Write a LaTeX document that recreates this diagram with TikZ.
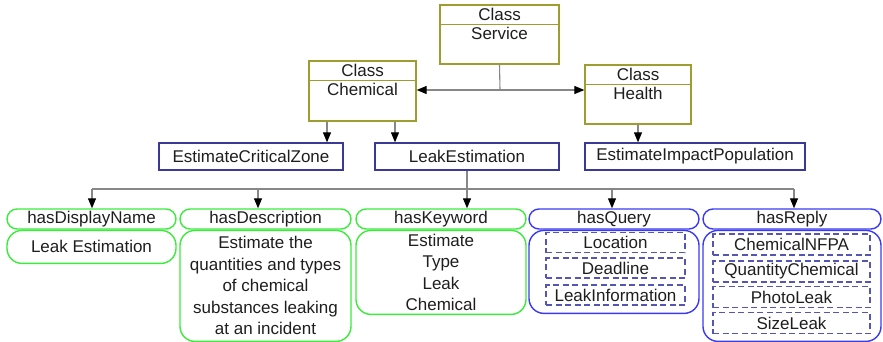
\documentclass[tikz,border=0pt]{standalone}
\usepackage{fontspec}
\setmainfont{Liberation Sans}
\usetikzlibrary{arrows.meta}

\definecolor{classc}{RGB}{158,158,48}
\definecolor{opc}{RGB}{58,58,150}
\definecolor{greenc}{RGB}{60,235,60}
\definecolor{bluec}{RGB}{58,58,245}
\definecolor{dashc}{RGB}{85,85,180}
\definecolor{linec}{RGB}{135,135,135}
\definecolor{textc}{RGB}{30,30,30}

\tikzset{
  txt/.style={font=\fontsize{17}{21.5}\selectfont, text=textc, inner sep=0pt},
  classbox/.style={draw=classc, line width=1.3pt, fill=white, inner sep=0pt},
  classrule/.style={draw=classc, line width=1.1pt},
  opbox/.style={txt, draw=opc, line width=1.3pt, minimum height=27pt},
  hdr/.style={txt, rounded corners=10pt, line width=1.4pt, minimum height=20pt},
  bodybox/.style={txt, rounded corners=15pt, line width=1.4pt, align=center},
  greenbox/.style={draw=greenc},
  bluebox/.style={draw=bluec},
  dashbox/.style={txt, draw=dashc, line width=1.2pt, dash pattern=on 6pt off 3.5pt, minimum height=20pt},
  conn/.style={draw=linec, line width=1.1pt},
  arr/.style={conn, -{Triangle[color=black, length=10pt, width=8pt]}},
}

\begin{document}
\begin{tikzpicture}[x=1pt, y=-1pt]
\useasboundingbox (0,0) rectangle (883,342);

% class boxes with a title strip
\node[classbox, minimum width=119pt, minimum height=59pt] (service) at (499.5,34.5) {};
\draw[classrule] ([yshift=-20pt]service.north west) -- ([yshift=-20pt]service.north east);
\node[txt] (serviceA) at ([yshift=-10pt]service.north) {Class};
\node[txt, anchor=north] (serviceB) at ([yshift=-23pt]service.north) {Service};

\node[classbox, minimum width=107pt, minimum height=60pt] (chemical) at (362.5,91) {};
\draw[classrule] ([yshift=-20pt]chemical.north west) -- ([yshift=-20pt]chemical.north east);
\node[txt] (chemicalA) at ([yshift=-10pt]chemical.north) {Class};
\node[txt, anchor=north] (chemicalB) at ([yshift=-23pt]chemical.north) {Chemical};

\node[classbox, minimum width=106pt, minimum height=59pt] (health) at (638,94.5) {};
\draw[classrule] ([yshift=-20pt]health.north west) -- ([yshift=-20pt]health.north east);
\node[txt] (healthA) at ([yshift=-10pt]health.north) {Class};
\node[txt, anchor=north] (healthB) at ([yshift=-23pt]health.north) {Health};

% operations
\node[opbox, minimum width=184pt] (ecz) at (251,156.5) {EstimateCriticalZone};
\node[opbox, minimum width=184pt] (leak) at (467,156.5) {LeakEstimation};
\node[opbox, minimum width=220pt] (eip) at (695,156.5) {EstimateImpactPopulation};

% property headers
\node[hdr, greenbox, minimum width=169pt] (hdn) at (91.5,219) {hasDisplayName};
\node[hdr, greenbox, minimum width=171pt] (hde) at (265.5,219) {hasDescription};
\node[hdr, greenbox, minimum width=170pt] (hkw) at (441,219) {hasKeyword};
\node[hdr, bluebox, minimum width=170pt] (hqu) at (614,219) {hasQuery};
\node[hdr, bluebox, minimum width=178pt] (hre) at (792,219) {hasReply};

% property values
\node[bodybox, greenbox, minimum width=169pt, minimum height=33pt, anchor=north] (vdn) at (hdn.south) {Leak Estimation};
\node[bodybox, greenbox, minimum width=171pt, minimum height=111pt, anchor=north] (vde) at (hde.south)
  {Estimate the\\quantities and types\\of chemical\\substances leaking\\at an incident};
\node[bodybox, greenbox, minimum width=170pt, minimum height=84pt, anchor=north] (vkw) at (hkw.south)
  {Estimate\\Type\\Leak\\Chemical};
\node[bodybox, bluebox, minimum width=170pt, minimum height=83pt, anchor=north] (vqu) at (hqu.south) {};
\node[bodybox, bluebox, minimum width=178pt, minimum height=111pt, anchor=north] (vre) at (hre.south) {};

% query parameters
\node[dashbox, minimum width=139pt] (q1) at (615.5,242.5) {Location};
\node[dashbox, minimum width=139pt] (q2) at (615.5,268) {Deadline};
\node[dashbox, minimum width=139pt] (q3) at (615.5,295) {LeakInformation};

% reply parameters
\node[dashbox, minimum width=157pt, minimum height=21pt] (r1) at (791.5,244.5) {ChemicalNFPA};
\node[dashbox, minimum width=157pt, minimum height=21pt] (r2) at (791.5,271.5) {QuantityChemical};
\node[dashbox, minimum width=157pt, minimum height=21pt] (r3) at (791.5,297) {PhotoLeak};
\node[dashbox, minimum width=157pt, minimum height=21pt] (r4) at (791.5,323) {SizeLeak};

% service to classes
\coordinate (sj) at (500,90);
\draw[conn] (service.south) -- (sj);
\draw[arr] (sj) -- (sj -| chemical.east);
\draw[arr] (sj) -- (sj -| health.west);

% classes to operations
\draw[arr] (chemical.south -| 327,0) -- (ecz.north -| 327,0);
\draw[arr] (chemical.south -| 395,0) -- (leak.north -| 395,0);
\draw[arr] (health.south) -- (eip.north -| health.south);

% operation to properties
\coordinate (bus) at (467,189);
\coordinate (busL) at (92,189);
\coordinate (busR) at (794,189);
\draw[conn] (busL) -- (busR);
\draw[arr] (leak.south) -- (hkw.north -| leak.south);
\draw[arr] (busL) -- (hdn.north -| busL);
\draw[arr] (258,189) -- (hde.north -| 258,0);
\draw[arr] (612,189) -- (hqu.north -| 612,0);
\draw[arr] (busR) -- (hre.north -| busR);
\end{tikzpicture}
\end{document}
